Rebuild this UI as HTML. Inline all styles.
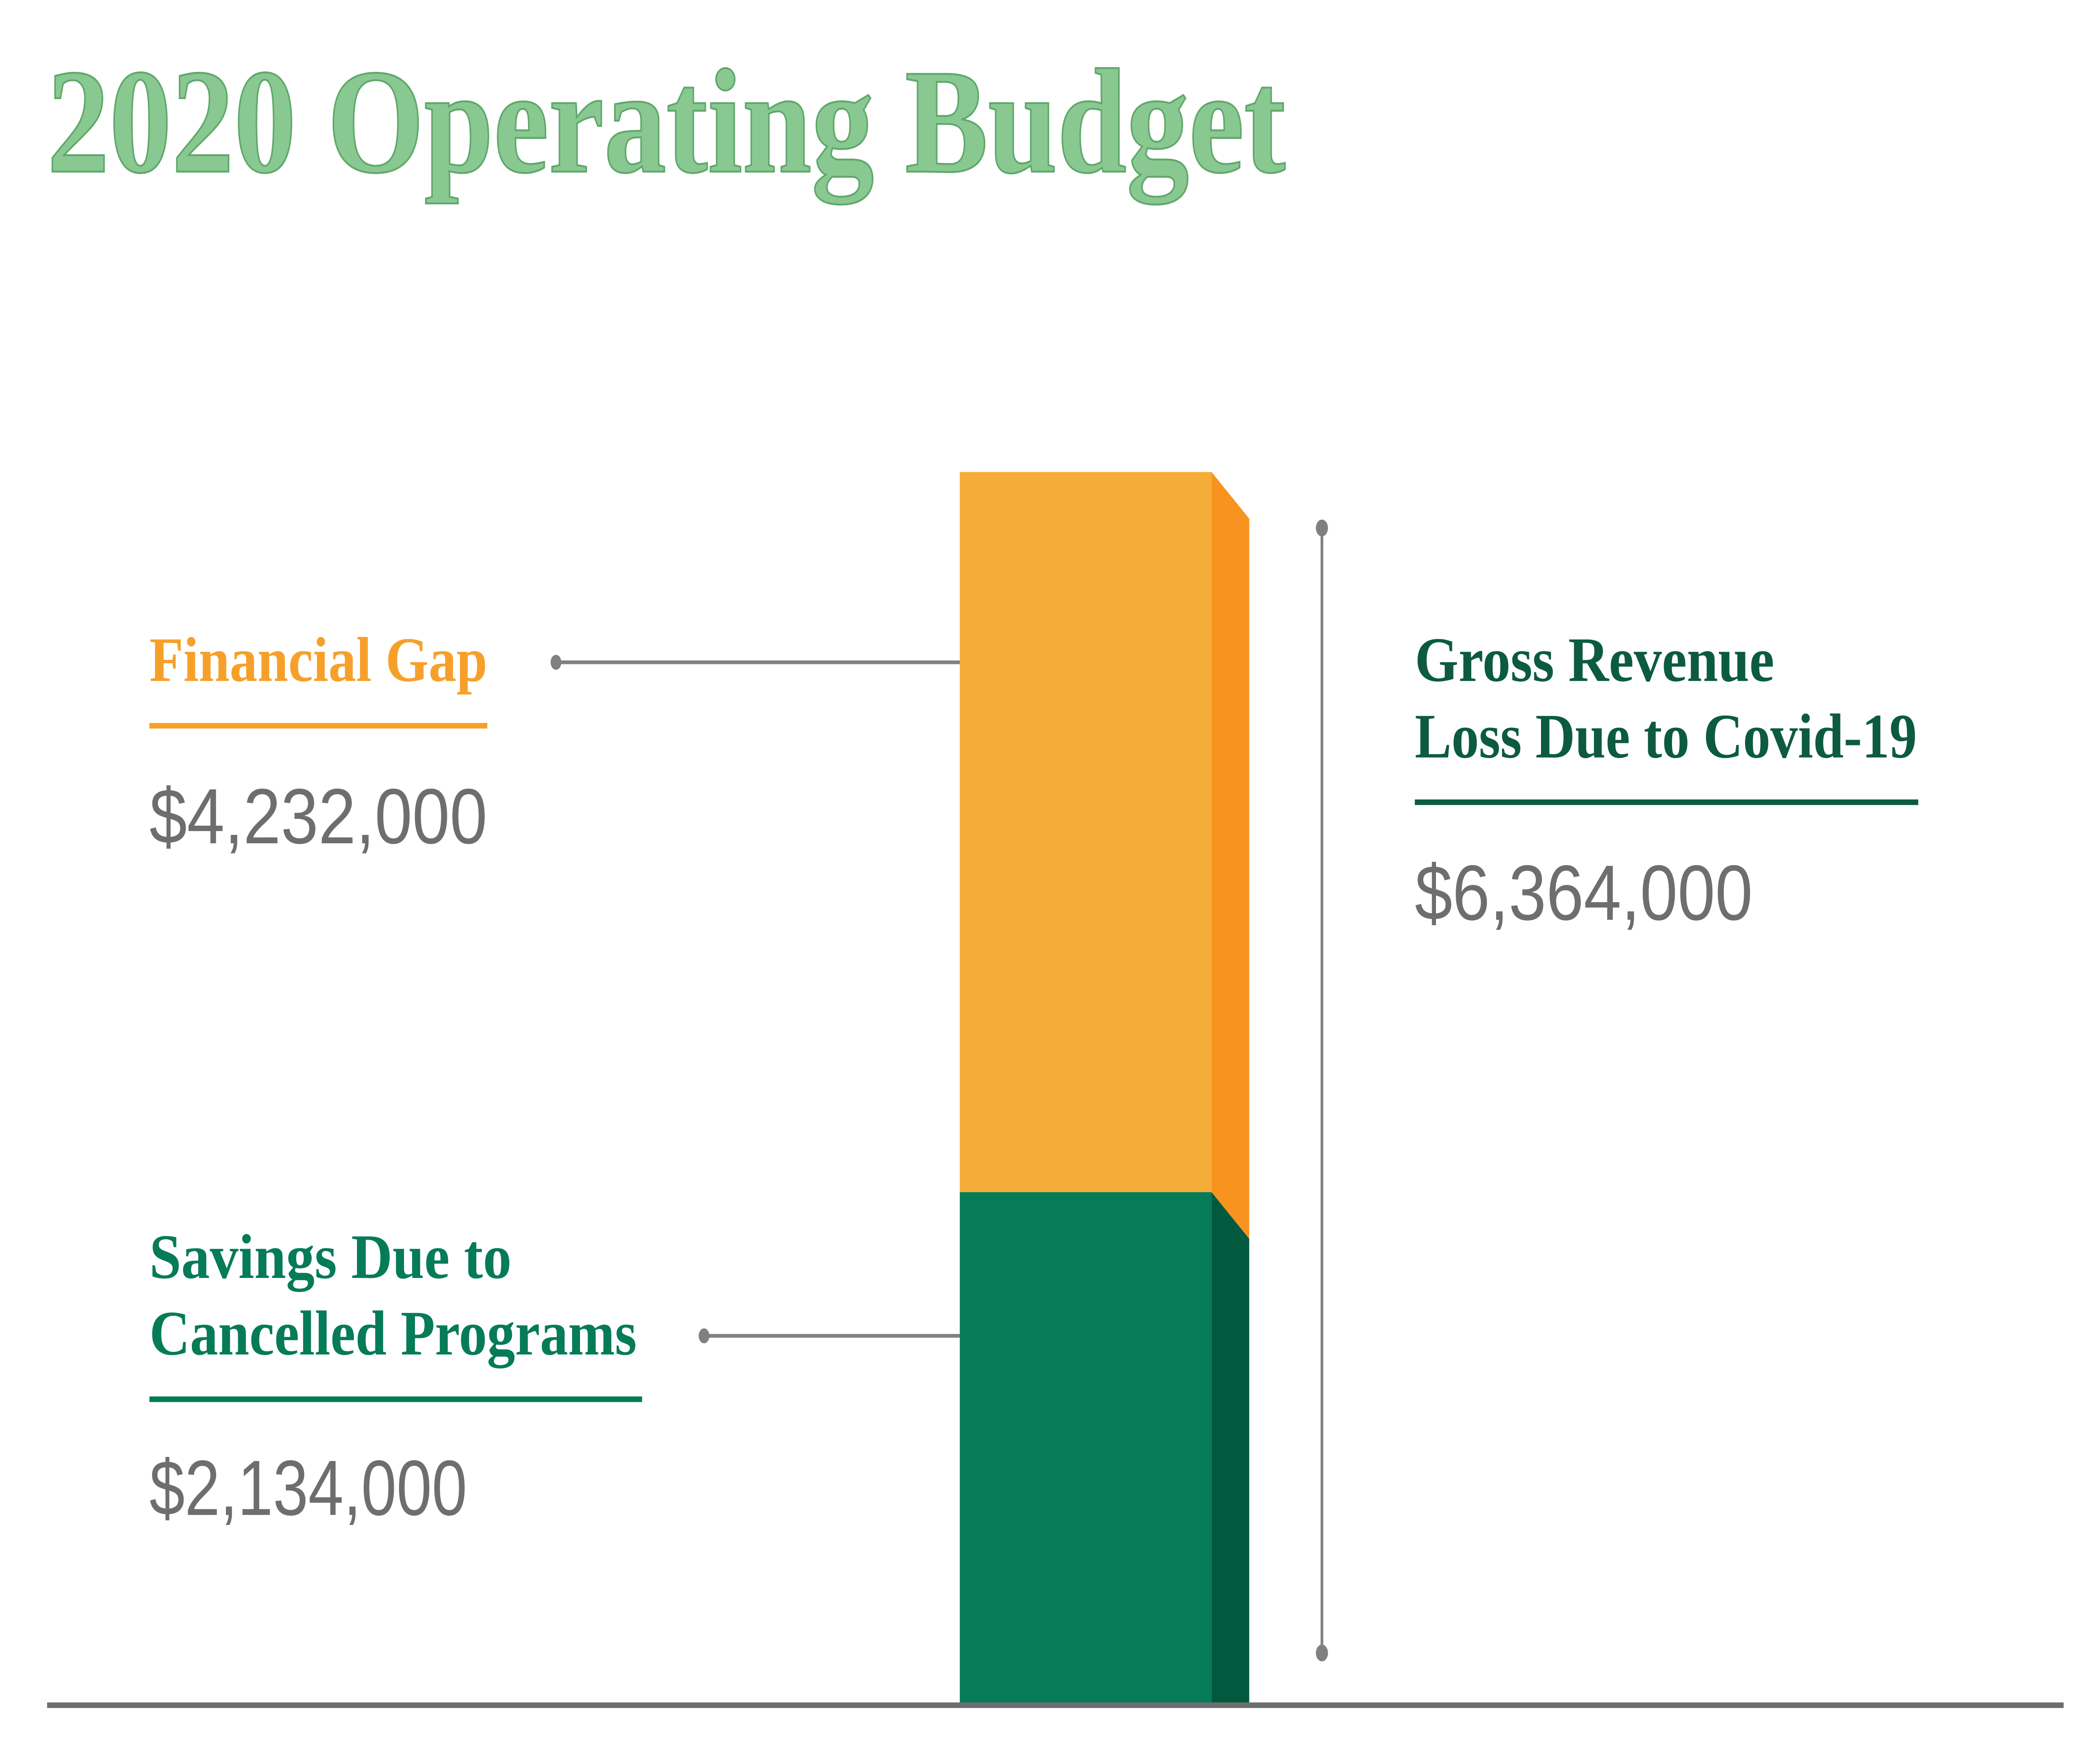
<!DOCTYPE html>
<html><head><meta charset="utf-8"><style>
html,body{margin:0;padding:0;background:#fff;width:100%;height:100%;overflow:hidden}
svg{display:block;position:fixed;left:0;top:0;width:100vw;height:100vh}
</style></head><body>
<svg viewBox="0 0 1560 938" preserveAspectRatio="none" xmlns="http://www.w3.org/2000/svg">
<rect width="1560" height="938" fill="#fff"/>
<text x="35" y="92" font-family="Liberation Serif, serif" font-weight="bold" font-size="80" fill="#89c991" stroke="#5fa86b" stroke-width="1" textLength="920" lengthAdjust="spacingAndGlyphs">2020 Operating Budget</text>
<rect x="713" y="253" width="187" height="386" fill="#f5ac38"/>
<rect x="713" y="639" width="187" height="275" fill="#057b57"/>
<polygon points="900,253 928,278 928,664 900,639" fill="#f7931e"/>
<polygon points="900,639 928,664 928,914 900,914" fill="#015a3e"/>
<line x1="35" y1="914" x2="1533" y2="914" stroke="#6d6e70" stroke-width="3"/>
<line x1="413" y1="355" x2="713" y2="355" stroke="#808080" stroke-width="2"/>
<circle cx="413" cy="355" r="4" fill="#808080"/>
<line x1="523" y1="716" x2="713" y2="716" stroke="#808080" stroke-width="2"/>
<circle cx="523" cy="716" r="4" fill="#808080"/>
<line x1="982" y1="283" x2="982" y2="886" stroke="#808080" stroke-width="2"/>
<circle cx="982" cy="283" r="4.5" fill="#808080"/>
<circle cx="982" cy="886" r="4.5" fill="#808080"/>
<g font-family="Liberation Serif, serif" font-weight="bold" font-size="34">
<text x="111" y="365" fill="#f6a02a" textLength="251" lengthAdjust="spacingAndGlyphs">Financial Gap</text>
<text x="111" y="685" fill="#067b57" textLength="269" lengthAdjust="spacingAndGlyphs">Savings Due to</text>
<text x="111" y="726" fill="#067b57" textLength="362" lengthAdjust="spacingAndGlyphs">Cancelled Programs</text>
<text x="1051" y="365" fill="#0c5b40" textLength="267" lengthAdjust="spacingAndGlyphs">Gross Revenue</text>
<text x="1051" y="406" fill="#0c5b40" textLength="373" lengthAdjust="spacingAndGlyphs">Loss Due to Covid-19</text>
</g>
<line x1="111" y1="389" x2="362" y2="389" stroke="#f6a02a" stroke-width="3"/>
<line x1="111" y1="750" x2="477" y2="750" stroke="#067b57" stroke-width="3"/>
<line x1="1051" y1="430" x2="1425" y2="430" stroke="#0c5b40" stroke-width="3"/>
<g font-family="Liberation Sans, sans-serif" font-size="42" fill="#6d6e70">
<text x="111" y="452" textLength="251" lengthAdjust="spacingAndGlyphs">$4,232,000</text>
<text x="111" y="812" textLength="236" lengthAdjust="spacingAndGlyphs">$2,134,000</text>
<text x="1051" y="493" textLength="251" lengthAdjust="spacingAndGlyphs">$6,364,000</text>
</g>
</svg>
</body></html>
